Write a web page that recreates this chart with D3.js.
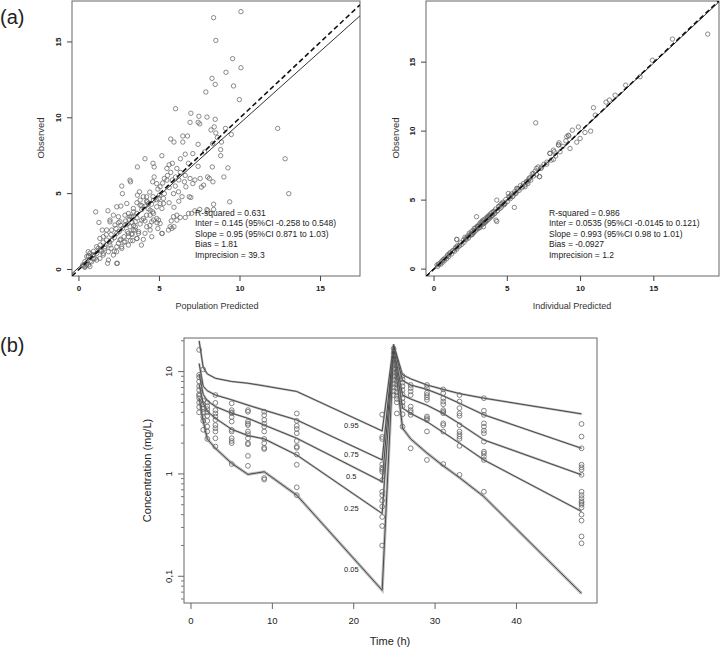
<!DOCTYPE html>
<html><head><meta charset="utf-8">
<script src="https://cdn.jsdelivr.net/npm/d3@7"></script>
<style>
body{margin:0;background:#fff}
text{font-family:"Liberation Sans",Arial,Helvetica,sans-serif}
</style></head>
<body><svg id="c" width="720" height="648"></svg>
<script>
// ---------- Panel (a) left: population predicted vs observed ----------
const popPred = [8.36,10.06,8.5,9.54,10.06,9.13,8.26,8.46,9.6,7.88,9.96,6.0,6.95,7.45,7.95,8.46,7.4,7.5,6.9,12.34,9.1,8.4,8.2,8.5,8.6,9.46,6.45,5.7,5.9,6.74,6.45,7.4,8.85,8.8,8.3,12.8,5.15,4.1,4.6,4.67,6.8,7.4,3.63,5.46,7.8,7.07,8.8,9.25,5.8,6.08,7.53,8.1,7.99,8.32,9.0,7.74,7.6,7.07,8.28,3.17,2.66,2.7,3.2,5.04,5.98,13.03,6.55,6.64,6.18,5.87,6.85,6.95,3.76,4.2,4.6,8.36,8.36,8.0,7.5,7.0,6.6,6.29,6.08,5.87,5.73,5.9,5.77,5.17,4.9,4.85,4.42,4.52,4.0,3.88,4.1,5.56,9.36,4.67,4.58,4.83,5.46,1.04,1.8,2.6,2.35,2.97,3.59,3.38,3.8,3.63,4.32,4.94,5.25,5.15,4.83,4.58,4.2,3.9,3.5,3.17,2.86,2.45,2.14,1.93,2.55,2.86,3.17,3.38,3.07,2.8,2.55,2.35,2.03,1.72,1.51,1.72,1.3,1.1,1.3,0.68,0.58,0.48,0.37,0.23,0.37,0.68,1.0,1.3,1.51,1.83,1.78,2.39,2.14,2.35,1.93,2.45,2.66,3.07,3.34,3.6,3.7,4.94,4.63,4.42,0.85,1.1,1.24,1.45,1.93,2.24,2.45,3.07,3.28,3.9,4.1,4.25,4.42,4.63,4.83,5.04,5.15,5.66,6.08,6.8,7.2,7.95,3.28,3.59,2.65,2.34,1.83,2.34,1.51,1.1,0.79,0.48,0.89,0.58,0.37,1.62,2.03,1.31,2.86,3.07,3.49,4.21,4.52,4.0,3.38,3.8,4.63,5.04,5.25,3.0,3.3,3.6,2.7,2.5,2.2,1.9,1.6,1.4,0.9,0.7,0.5,0.6,0.3,4.3,4.5,4.8,5.0,5.3,5.6,5.8,6.0,6.3,6.6,4.2,3.9,3.4,3.1,2.9,2.6,2.3,2.0,1.7,1.5,1.2,0.9,0.6,4.0,4.4,3.6,5.5,5.2,6.2,5.6,5.9,6.4,6.2,3.0,3.3,3.5,3.8,4.1,4.4,2.0,2.2,2.6,2.8,3.2,5.6,6.3,6.6,5.3,4.9,5.7,6.9,7.2,3.4,3.7];
const popObs  = [16.6,17.0,15.1,13.9,13.3,13.0,12.6,12.2,12.1,11.7,11.2,10.6,10.3,10.1,10.05,9.9,9.7,9.6,9.7,9.3,9.3,9.4,9.2,9.0,8.7,8.9,8.8,8.6,8.4,8.8,8.4,8.25,8.4,7.9,8.3,7.3,7.5,7.3,7.0,6.76,7.0,6.8,6.76,6.66,7.75,7.64,7.5,6.7,7.0,6.66,6.0,6.0,6.1,5.78,6.1,5.56,5.43,5.66,6.76,5.89,5.5,5.0,5.78,5.45,5.5,5.0,5.78,5.45,5.12,5.0,4.79,4.75,5.12,4.79,4.8,4.3,3.96,3.87,3.96,3.7,3.43,3.43,3.58,3.48,3.2,2.82,2.71,2.38,2.7,3.08,2.6,2.16,1.98,1.61,2.38,2.6,4.46,6.1,5.78,5.66,5.89,3.8,3.87,4.18,4.13,4.35,3.7,3.48,4.57,4.9,4.35,4.68,4.35,4.02,4.13,3.8,3.58,3.26,3.15,3.48,3.58,3.48,3.58,3.26,3.15,2.93,2.82,2.6,2.38,2.16,1.94,2.38,2.6,2.6,2.16,1.94,2.05,1.5,1.28,1.06,1.17,0.85,0.52,0.3,0.19,0.19,0.73,0.73,0.95,1.17,0.41,0.41,0.95,1.5,1.61,1.72,1.39,1.61,1.9,2.05,2.38,3.26,3.26,3.58,0.95,1.06,3.1,2.6,3.14,2.93,3.08,3.69,3.47,3.95,4.17,4.46,3.91,3.69,3.36,3.03,2.37,2.82,3.25,3.69,3.87,3.95,2.37,2.04,1.5,1.17,0.62,0.4,1.06,0.62,0.51,0.3,0.95,0.84,0.14,1.5,1.94,1.61,1.83,2.16,2.6,2.82,3.14,3.36,4.02,4.24,4.57,4.35,4.68,3.0,3.1,3.4,2.7,2.5,2.1,1.8,1.4,1.2,0.7,0.55,0.45,0.3,0.25,4.0,4.3,4.6,4.9,5.0,5.4,5.9,6.1,6.4,6.2,4.5,4.2,3.8,3.3,3.2,2.9,2.7,2.3,2.3,1.8,1.4,1.2,0.9,4.8,5.1,4.4,6.2,5.7,5.9,4.4,4.1,4.8,4.5,2.5,2.3,2.8,3.0,3.2,2.9,1.4,1.2,2.0,1.8,1.9,6.9,7.3,7.6,6.0,5.3,6.4,6.0,5.9,2.9,2.5];
// ---------- Panel (a) right: individual predicted vs observed ----------
const indPred = [0.2,0.25,0.35,0.45,0.5,0.55,0.6,0.7,0.75,0.85,0.95,1.0,1.05,1.1,1.2,1.3,1.4,1.5,1.55,1.6,1.55,1.7,1.8,1.9,2.0,2.05,2.1,2.2,2.3,2.35,2.4,2.5,2.55,2.6,2.65,2.7,2.75,2.8,2.85,2.9,2.95,3.0,3.05,3.1,3.15,3.2,3.25,3.3,3.35,3.4,3.45,3.5,3.55,3.6,3.65,3.7,3.75,3.8,3.85,3.9,3.95,4.0,4.1,4.15,4.2,4.3,4.4,4.5,4.55,4.6,4.7,4.8,4.9,5.0,5.1,5.2,5.3,5.4,5.5,5.6,5.7,5.8,5.9,6.0,6.1,6.2,6.35,6.5,6.6,6.7,6.8,6.9,7.0,7.1,7.2,7.3,7.5,7.7,7.9,8.0,8.2,8.3,8.5,8.6,8.8,9.0,9.2,2.9,4.23,4.28,5.48,6.94,18.68,16.27,14.9,14.06,13.08,12.36,11.74,11.97,10.88,11.0,10.69,10.3,9.85,9.44,9.17,9.06,9.97,9.74,9.28,8.53,8.49,8.15,7.92,8.15,7.69,7.35,7.0,7.2,6.78,6.44,6.21,5.64,5.07,4.28,3.37,1.55,0.3,0.65,0.9,1.25,1.45,1.75,2.15,2.45,2.7,2.95,3.1,3.3,3.5,3.7,3.9,4.05,4.35,4.65,4.85,5.15,5.35,5.75,6.05,6.3,2.25,2.6,3.0,3.2,3.45,3.65,3.8,4.1,4.45,4.75,5.25,5.55,6.4,6.55];
const indObs  = [0.3,0.2,0.4,0.35,0.55,0.45,0.65,0.6,0.8,0.75,1.05,0.9,1.1,1.2,1.1,1.35,1.3,1.6,1.45,1.7,2.15,1.65,1.9,1.8,2.1,1.95,2.3,2.15,2.4,2.25,2.6,2.45,2.7,2.55,2.8,2.65,2.95,2.75,3.0,2.85,3.1,2.95,3.2,3.0,3.35,3.15,3.45,3.25,3.55,3.3,3.6,3.45,3.7,3.5,3.8,3.6,3.9,3.7,4.0,3.85,4.1,3.9,4.2,4.05,4.35,4.2,4.55,4.4,4.7,4.5,4.85,4.7,5.05,4.9,5.25,5.1,5.45,5.3,5.6,5.5,5.85,5.7,6.05,5.9,6.2,6.1,6.3,6.6,6.45,6.9,6.75,7.1,6.85,7.4,6.7,7.3,7.6,7.75,8.4,7.9,8.5,8.2,9.0,8.5,8.9,9.3,9.65,3.8,3.55,3.45,4.47,10.6,17.03,16.67,15.14,13.94,13.33,12.6,12.1,12.25,11.7,11.16,10.0,9.9,10.3,10.07,9.7,9.6,9.47,9.2,8.74,9.15,9.0,8.62,8.38,7.95,7.6,7.4,7.3,6.7,6.93,6.45,5.97,5.85,5.48,5.0,3.07,2.15,0.35,0.7,0.95,1.3,1.5,1.7,2.2,2.5,2.65,3.05,3.0,3.4,3.4,3.75,3.8,4.15,4.25,4.75,4.75,5.2,5.25,5.8,6.0,6.35,2.3,2.5,3.1,3.25,3.4,3.7,3.85,4.0,4.55,4.65,5.35,5.5,6.2,6.6];
const tickAB = [0,5,10,15];
const statsPop = ["R-squared = 0.631","Inter = 0.145 (95%CI -0.258 to 0.548)","Slope = 0.95 (95%CI 0.871 to 1.03)","Bias = 1.81","Imprecision  = 39.3"];
const statsInd = ["R-squared = 0.986","Inter = 0.0535 (95%CI -0.0145 to 0.121)","Slope = 0.993 (95%CI 0.98 to 1.01)","Bias = -0.0927","Imprecision  = 1.2"];
const fitPop = [0.145, 0.95];
const fitInd = [0.0535, 0.993];

// ---------- Panel (b): VPC ----------
const qTimes = [1,1.5,2,3,5,7,9,13,23.5,24.9,26,27,29,31,33,36,48];
const q95 = [20,11,9.5,8.6,8.0,7.7,7.25,6.4,2.63,18.5,9.3,8.5,7.4,6.7,6.1,5.5,3.86];
const q75 = [12,7.2,6.5,5.9,5.3,4.7,4.2,3.37,1.37,17.8,8.2,7.4,6.7,5.8,4.9,3.78,1.78];
const q50 = [9.5,6.0,5.2,4.55,3.92,3.5,3.0,2.23,0.84,17.2,5.9,5.4,4.7,3.9,3.1,2.15,0.98];
const q25 = [7.5,4.9,4.1,3.5,2.73,2.37,2.2,1.53,0.41,16.6,4.4,3.9,3.24,2.55,2.0,1.37,0.43];
const q05 = [5.5,3.3,2.2,1.78,1.27,0.99,1.05,0.62,0.073,15.5,2.8,2.2,1.6,1.2,0.92,0.6,0.068];
const qNames = ["0.95","0.75","0.5","0.25","0.05"];
const qLabelAt = [2.63,1.37,0.84,0.41,0.073];
const obsTimes = [1,1.5,2,3,5,7,9,13,23.5,24.9,25.3,26,27,29,31,33,36,48];
const obsConc = [
 [16.3,9.3,8.8,8.0,7.2,6.6,6.0,5.8,5.5,5.0,4.5,4.0],
 [10.5,5.2,4.8,4.5,4.3,4.0,3.6,3.3,2.7],
 [5.0,4.6,4.3,4.0,3.7,3.3,2.9,2.6,2.2],
 [5.9,4.95,4.2,3.9,3.64,3.37,3.0,2.8,2.6,2.23,1.85],
 [4.9,4.2,4.0,3.92,3.6,3.25,2.7,2.6,2.23,2.1,2.0,1.25],
 [4.2,4.05,3.25,3.1,3.0,2.6,2.45,2.23,2.0,1.95,1.5,1.2],
 [4.05,3.75,3.37,3.1,2.9,2.6,2.2,2.0,1.8,1.75,0.91,0.88],
 [3.9,3.3,2.95,2.75,2.5,2.1,1.85,1.8,1.55,1.23,0.74,0.62],
 [3.8,2.3,2.2,1.24,1.15,1.1,1.05,0.87,0.67,0.62,0.55,0.48,0.38,0.31,0.2],
 [16.8,15.3,13.7,12.5,11.5,10.6,9.8,9.0,8.3,7.6,7.0,6.4,5.9],
 [11.3,10.2,9.5,8.8,8.1,7.5,6.9,6.3,5.8,5.4,5.0,3.9],
 [9.1,8.4,7.8,7.2,6.6,6.0,5.5,5.0,4.6,3.83,2.9],
 [7.4,6.9,6.4,5.9,4.55,4.2,4.0,3.78,1.78],
 [7.4,6.9,6.2,5.9,5.6,5.3,3.64,3.5,3.37,2.6,1.37],
 [6.7,6.15,5.5,5.1,4.8,4.2,4.05,3.92,3.12,3.0,2.6,1.25],
 [5.9,5.1,4.4,3.9,3.7,3.0,2.6,2.45,2.32,2.2,1.88,0.98],
 [5.5,4.15,3.78,3.12,2.9,2.65,2.5,2.07,1.65,1.58,1.48,1.37,0.67],
 [3.08,2.32,1.78,1.23,1.16,1.1,0.98,0.67,0.62,0.58,0.54,0.5,0.52,0.47,0.4,0.35,0.245,0.21]
];
const tickBx = [0,10,20,30,40];
const tickBy = [0.1,1,10];
const tickByLabels = ["0,1","1","10"];
const minorBy = [0.06,0.07,0.08,0.09,0.2,0.3,0.4,0.5,0.6,0.7,0.8,0.9,2,3,4,5,6,7,8,9,20];

const svg = d3.select("#c");
const ink = "#444";

function scatterPanel(o){
  const g = svg.append("g");
  const x = d3.scaleLinear().domain(o.xd).range([o.l,o.r]);
  const y = d3.scaleLinear().domain(o.yd).range([o.b,o.t]);
  g.append("rect").attr("x",o.l).attr("y",o.t).attr("width",o.r-o.l).attr("height",o.b-o.t)
   .attr("fill","none").attr("stroke","#666").attr("stroke-width",1);
  tickAB.forEach(v=>{
    g.append("line").attr("x1",x(v)).attr("x2",x(v)).attr("y1",o.b).attr("y2",o.b+5).attr("stroke",ink);
    g.append("text").attr("x",x(v)).attr("y",o.b+15).attr("text-anchor","middle")
     .attr("font-size",8).attr("font-weight","bold").attr("fill","#222").text(v);
    g.append("line").attr("y1",y(v)).attr("y2",y(v)).attr("x1",o.l-5).attr("x2",o.l).attr("stroke",ink);
    g.append("text").attr("transform",`translate(${o.l-11},${y(v)}) rotate(-90)`).attr("text-anchor","middle")
     .attr("font-size",8).attr("font-weight","bold").attr("fill","#222").text(v);
  });
  g.append("text").attr("x",o.xlx).attr("y",309).attr("text-anchor","middle").attr("font-size",9).attr("fill","#333").text(o.xlab);
  g.append("text").attr("transform",`translate(${o.ylx},138) rotate(-90)`).attr("text-anchor","middle").attr("font-size",9.5).attr("fill","#333").text("Observed");
  const clip = "clip"+o.id;
  svg.append("clipPath").attr("id",clip).append("rect").attr("x",o.l).attr("y",o.t).attr("width",o.r-o.l).attr("height",o.b-o.t);
  const pg = g.append("g").attr("clip-path",`url(#${clip})`);
  pg.selectAll("circle").data(o.px.map((d,i)=>[d,o.py[i]])).join("circle")
    .attr("cx",d=>x(d[0])).attr("cy",d=>y(d[1])).attr("r",2.2)
    .attr("fill","none").attr("stroke","#666").attr("stroke-width",0.75);
  const x0=o.xd[0], x1=o.xd[1];
  pg.append("line").attr("x1",x(x0)).attr("y1",y(o.fit[0]+o.fit[1]*x0)).attr("x2",x(x1)).attr("y2",y(o.fit[0]+o.fit[1]*x1))
    .attr("stroke","#333").attr("stroke-width",1);
  pg.append("line").attr("x1",x(x0)).attr("y1",y(x0)).attr("x2",x(x1)).attr("y2",y(x1))
    .attr("stroke","#111").attr("stroke-width",1.6).attr("stroke-dasharray","5,3");
  o.stats.forEach((s,i)=>{
    g.append("text").attr("x",o.sx).attr("y",215.5+i*10.5).attr("font-size",8.5).attr("fill","#222").text(s);
  });
}
scatterPanel({id:"p1",l:72,r:360,t:1,b:276,xd:[-0.43,17.45],yd:[-0.43,17.7],px:popPred,py:popObs,
  fit:fitPop,stats:statsPop,sx:195,xlab:"Population Predicted",xlx:217,ylx:44});
scatterPanel({id:"p2",l:426,r:719,t:1,b:276,xd:[-0.55,19.45],yd:[-0.5,19.43],px:indPred,py:indObs,
  fit:fitInd,stats:statsInd,sx:549,xlab:"Individual Predicted",xlx:572,ylx:399});

svg.append("text").attr("x",0).attr("y",24).attr("font-size",20).attr("fill","#222").text("(a)");
svg.append("text").attr("x",0).attr("y",352).attr("font-size",20).attr("fill","#222").text("(b)");

// ---------- Panel (b) ----------
(function(){
  const L=184,R=597,T=338,B=603;
  const g = svg.append("g");
  const x = d3.scaleLinear().domain([-0.86,49.9]).range([L,R]);
  const y = d3.scaleLog().domain([0.0548,21.3]).range([B,T]);
  g.append("rect").attr("x",L).attr("y",T).attr("width",R-L).attr("height",B-T).attr("fill","none").attr("stroke","#666");
  tickBx.forEach(v=>{
    g.append("line").attr("x1",x(v)).attr("x2",x(v)).attr("y1",B).attr("y2",B+6).attr("stroke","#666");
    g.append("text").attr("x",x(v)).attr("y",B+21).attr("text-anchor","middle").attr("font-size",9.5).attr("fill","#222").text(v);
  });
  tickBy.forEach((v,i)=>{
    g.append("line").attr("x1",L-6).attr("x2",L).attr("y1",y(v)).attr("y2",y(v)).attr("stroke","#666");
    g.append("text").attr("transform",`translate(${L-12},${y(v)}) rotate(-90)`).attr("text-anchor","middle")
      .attr("font-size",9.5).attr("fill","#222").text(tickByLabels[i]);
  });
  minorBy.forEach(v=>{
    g.append("line").attr("x1",L-3).attr("x2",L).attr("y1",y(v)).attr("y2",y(v)).attr("stroke","#777");
  });
  g.append("text").attr("x",390).attr("y",645).attr("text-anchor","middle").attr("font-size",11).attr("fill","#222").text("Time (h)");
  g.append("text").attr("transform",`translate(151,${(T+B)/2}) rotate(-90)`).attr("text-anchor","middle").attr("font-size",11).attr("fill","#222").text("Concentration (mg/L)");
  svg.append("clipPath").attr("id","clipB").append("rect").attr("x",L).attr("y",T).attr("width",R-L).attr("height",B-T);
  const pg = g.append("g").attr("clip-path","url(#clipB)");
  const line = d3.line().x(d=>x(d[0])).y(d=>y(d[1]));
  const qs=[q95,q75,q50,q25,q05];
  qs.forEach((q,k)=>{
    const pts = qTimes.map((t,i)=>[t,q[i]]);
    pg.append("path").attr("d",line(pts)).attr("fill","none").attr("stroke","#bbb").attr("stroke-width",k===4?3:2.2);
  });
  qs.forEach(q=>{
    const pts = qTimes.map((t,i)=>[t,q[i]]);
    pg.append("path").attr("d",line(pts)).attr("fill","none").attr("stroke","#4a4a4a").attr("stroke-width",1);
  });
  qNames.forEach((n,k)=>{
    g.append("text").attr("x",x(19.7)).attr("y",y(qLabelAt[k])).attr("dy",k===4?-18:-3)
      .attr("text-anchor","middle").attr("font-size",7.5).attr("fill","#222").text(n);
  });
  const obs=[];
  obsTimes.forEach((t,i)=>obsConc[i].forEach(c=>obs.push([t,c])));
  pg.selectAll("circle").data(obs).join("circle").attr("cx",d=>x(d[0])).attr("cy",d=>y(d[1])).attr("r",2.4)
    .attr("fill","none").attr("stroke","#666").attr("stroke-width",0.8);
})();
</script></body></html>
